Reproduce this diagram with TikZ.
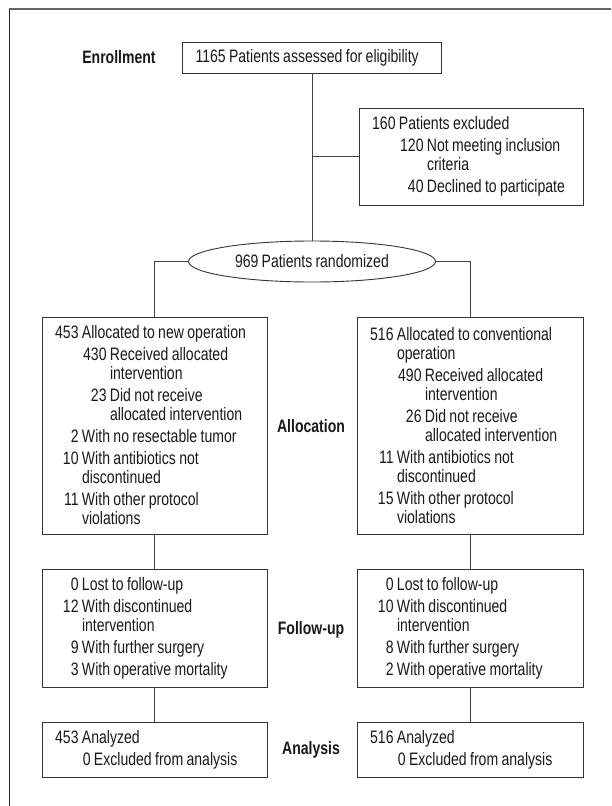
\documentclass[tikz,border=0pt]{standalone}
\usepackage{fontspec}
\setmainfont{Liberation Sans}[FakeStretch=0.78, WordSpace=0.8]
\usetikzlibrary{shapes.geometric}

% one line of a box: number set flush right before the text column
\newcommand{\ent}[3][40pt]{\hspace*{#1}\llap{#2\ }#3}

\begin{document}
\begin{tikzpicture}[x=1pt,y=-1pt,
  every node/.style={font=\fontsize{18}{19}\selectfont, text=black!90},
  box/.style={draw=black!80, line width=0.9pt, inner xsep=0pt, inner ysep=0pt,
    align=left, text width=#1, minimum width=#1,
    execute at begin node={\spaceskip=3.4pt plus 1pt\relax}},
  stage/.style={font=\fontsize{18}{19}\selectfont\bfseries},
  link/.style={draw=black!75, line width=0.9pt}]
\useasboundingbox (0,0) rectangle (611,806);
% frame
\draw[black!60, line width=2pt] (9,9) -- (611,9);
\draw[black!85, line width=0.9pt] (9,9) -- (9,806);

% stages
\node[stage] (lenroll) at (119,57.5) {Enrollment};
\node[stage] (lalloc) at (311,426) {Allocation};
\node[stage] (lfup) at (311,630) {Follow-up};
\node[stage] (lana) at (311,750) {Analysis};

\node[box=259pt, minimum height=31pt] (enroll) at (312,57.5)
  {\hspace*{13pt}1165 Patients assessed for eligibility};
\node[box=224pt, minimum height=97pt] (excl) at (471,156.5)
  {\ent{160}{Patients excluded}\\[3pt]
   \ent[68pt]{120}{Not meeting inclusion}\\ \ent[68pt]{}{criteria}\\[3pt]
   \ent[68pt]{40}{Declined to participate}};
\node[ellipse, draw=black!80, line width=0.9pt, inner sep=0pt,
  minimum width=247pt, minimum height=41pt] (rand) at (312,261.5) {969 Patients randomized};

\node[box=225pt, minimum height=217pt] (allocL) at (154.5,425.5)
  {\ent{453}{Allocated to new operation}\\[3pt]
   \ent[68pt]{430}{Received allocated}\\ \ent[68pt]{}{intervention}\\[3pt]
   \ent[68pt]{23}{Did not receive}\\ \ent[68pt]{}{allocated intervention}\\[3pt]
   \ent{2}{With no resectable tumor}\\[3pt]
   \ent{10}{With antibiotics not}\\ \ent{}{discontinued}\\[3pt]
   \ent{11}{With other protocol}\\ \ent{}{violations}};
\node[box=226pt, minimum height=217pt] (allocR) at (470,425.5)
  {\ent{516}{Allocated to conventional}\\ \ent{}{operation}\\[3pt]
   \ent[68pt]{490}{Received allocated}\\ \ent[68pt]{}{intervention}\\[3pt]
   \ent[68pt]{26}{Did not receive}\\ \ent[68pt]{}{allocated intervention}\\[3pt]
   \ent{11}{With antibiotics not}\\ \ent{}{discontinued}\\[3pt]
   \ent{15}{With other protocol}\\ \ent{}{violations}};

\node[box=225pt, minimum height=118pt] (fupL) at (154.5,628)
  {\ent{0}{Lost to follow-up}\\[3pt]
   \ent{12}{With discontinued}\\ \ent{}{intervention}\\[3pt]
   \ent{9}{With further surgery}\\[3pt]
   \ent{3}{With operative mortality}};
\node[box=226pt, minimum height=118pt] (fupR) at (470,628)
  {\ent{0}{Lost to follow-up}\\[3pt]
   \ent{10}{With discontinued}\\ \ent{}{intervention}\\[3pt]
   \ent{8}{With further surgery}\\[3pt]
   \ent{2}{With operative mortality}};

\node[box=225pt, minimum height=55pt] (anaL) at (154.5,749.5)
  {\ent{453}{Analyzed}\\[3pt] \ent[52pt]{0}{Excluded from analysis}};
\node[box=226pt, minimum height=55pt] (anaR) at (470,749.5)
  {\ent{516}{Analyzed}\\[3pt] \ent[52pt]{0}{Excluded from analysis}};

% connectors
\coordinate (jn) at (enroll.south |- excl.west);
\draw[link] (enroll) -- (rand);
\draw[link] (jn) -- (excl);
\draw[link] (rand.west) -| (allocL.north);
\draw[link] (rand.east) -| (allocR.north);
\draw[link] (allocL) -- (fupL);
\draw[link] (allocR) -- (fupR);
\draw[link] (fupL) -- (anaL);
\draw[link] (fupR) -- (anaR);
\end{tikzpicture}
\end{document}
